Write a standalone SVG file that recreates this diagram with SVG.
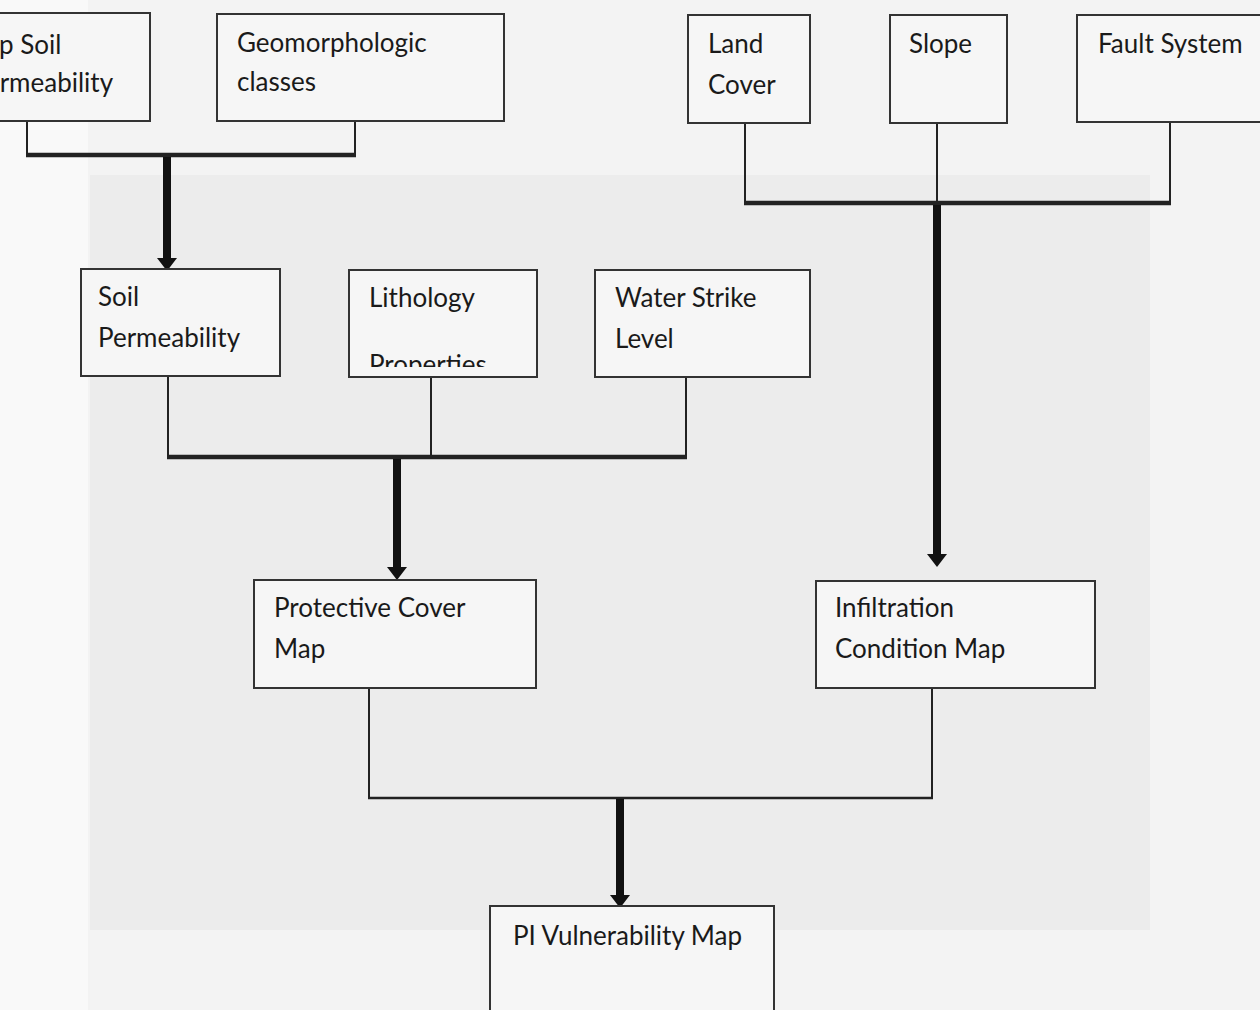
<svg xmlns="http://www.w3.org/2000/svg" width="1260" height="1010" viewBox="0 0 1260 1010">
  <style>
    .box { fill: #f6f6f6; stroke: #333; stroke-width: 2; }
    .lbl { font-family: Lato, "Open Sans", "Liberation Sans", sans-serif; font-size: 26px; fill: #1a1a1a; }
    .thin { stroke: #222; stroke-width: 2; fill: none; }
    .bar { stroke: #222; stroke-width: 4.5; fill: none; }
    .bar2 { stroke: #222; stroke-width: 2.5; fill: none; }
    .shaft { stroke: #111; stroke-width: 8; fill: none; marker-end: url(#head); }
  </style>
  <defs>
    <marker id="head" markerUnits="userSpaceOnUse" markerWidth="14" markerHeight="22" refX="5" refY="11" orient="auto" viewBox="0 0 14 22">
      <path d="M0,1 L13,11 L0,21 Z" fill="#111"/>
    </marker>
    <clipPath id="clipLith"><rect x="349" y="270" width="188" height="97"/></clipPath>
  </defs>

  <!-- background -->
  <rect x="0" y="0" width="1260" height="1010" fill="#f3f3f3"/>
  <rect x="0" y="0" width="88" height="1010" fill="#f9f9f9"/>
  <rect x="90" y="175" width="1060" height="755" fill="#ececec"/>

  <g id="connectors">
    <polyline class="thin" points="27,121 27,155"/>
    <polyline class="thin" points="355,121 355,155"/>
    <line class="bar" x1="26" y1="155" x2="356" y2="155"/>
    <line class="shaft" x1="167" y1="157" x2="167" y2="263"/>

    <polyline class="thin" points="745,123 745,203"/>
    <polyline class="thin" points="937,123 937,203"/>
    <polyline class="thin" points="1170,122 1170,203"/>
    <line class="bar" x1="744" y1="203" x2="1171" y2="203"/>
    <line class="shaft" x1="937" y1="205" x2="937" y2="559"/>

    <polyline class="thin" points="168,376 168,457"/>
    <polyline class="thin" points="431,377 431,457"/>
    <polyline class="thin" points="686,377 686,457"/>
    <line class="bar" x1="167" y1="457" x2="687" y2="457"/>
    <line class="shaft" x1="397" y1="459" x2="397" y2="572"/>

    <polyline class="thin" points="369,688 369,798"/>
    <polyline class="thin" points="932,688 932,798"/>
    <line class="bar2" x1="368" y1="798" x2="933" y2="798"/>
    <line class="shaft" x1="620" y1="799" x2="620" y2="900"/>
  </g>

  <g id="node-top-soil">
    <rect class="box" x="-60" y="13" width="210" height="108"/>
    <text class="lbl" x="-28" y="54">Top Soil</text>
    <text class="lbl" x="-29" y="92">Permeability</text>
  </g>
  <g id="node-geomorphologic">
    <rect class="box" x="217" y="14" width="287" height="107"/>
    <text class="lbl" x="237" y="52">Geomorphologic</text>
    <text class="lbl" x="237" y="91">classes</text>
  </g>
  <g id="node-land-cover">
    <rect class="box" x="688" y="15" width="122" height="108"/>
    <text class="lbl" x="708" y="53">Land</text>
    <text class="lbl" x="708" y="94">Cover</text>
  </g>
  <g id="node-slope">
    <rect class="box" x="890" y="15" width="117" height="108"/>
    <text class="lbl" x="909" y="53">Slope</text>
  </g>
  <g id="node-fault-system">
    <rect class="box" x="1077" y="15" width="190" height="107"/>
    <text class="lbl" x="1098" y="53">Fault System</text>
  </g>

  <g id="node-soil-permeability">
    <rect class="box" x="81" y="269" width="199" height="107"/>
    <text class="lbl" x="98" y="306">Soil</text>
    <text class="lbl" x="98" y="347">Permeability</text>
  </g>
  <g id="node-lithology">
    <rect class="box" x="349" y="270" width="188" height="107"/>
    <text class="lbl" x="369" y="307">Lithology</text>
    <text class="lbl" x="369" y="374" clip-path="url(#clipLith)">Properties</text>
  </g>
  <g id="node-water-strike">
    <rect class="box" x="595" y="270" width="215" height="107"/>
    <text class="lbl" x="615" y="307">Water Strike</text>
    <text class="lbl" x="615" y="348">Level</text>
  </g>

  <g id="node-protective-cover">
    <rect class="box" x="254" y="580" width="282" height="108"/>
    <text class="lbl" x="274" y="617">Protective Cover</text>
    <text class="lbl" x="274" y="658">Map</text>
  </g>
  <g id="node-infiltration">
    <rect class="box" x="816" y="581" width="279" height="107"/>
    <text class="lbl" x="835" y="617">Infiltration</text>
    <text class="lbl" x="835" y="658">Condition Map</text>
  </g>

  <g id="node-pi-vulnerability">
    <rect class="box" x="490" y="906" width="284" height="120"/>
    <text class="lbl" x="513" y="945">PI Vulnerability Map</text>
  </g>
</svg>
